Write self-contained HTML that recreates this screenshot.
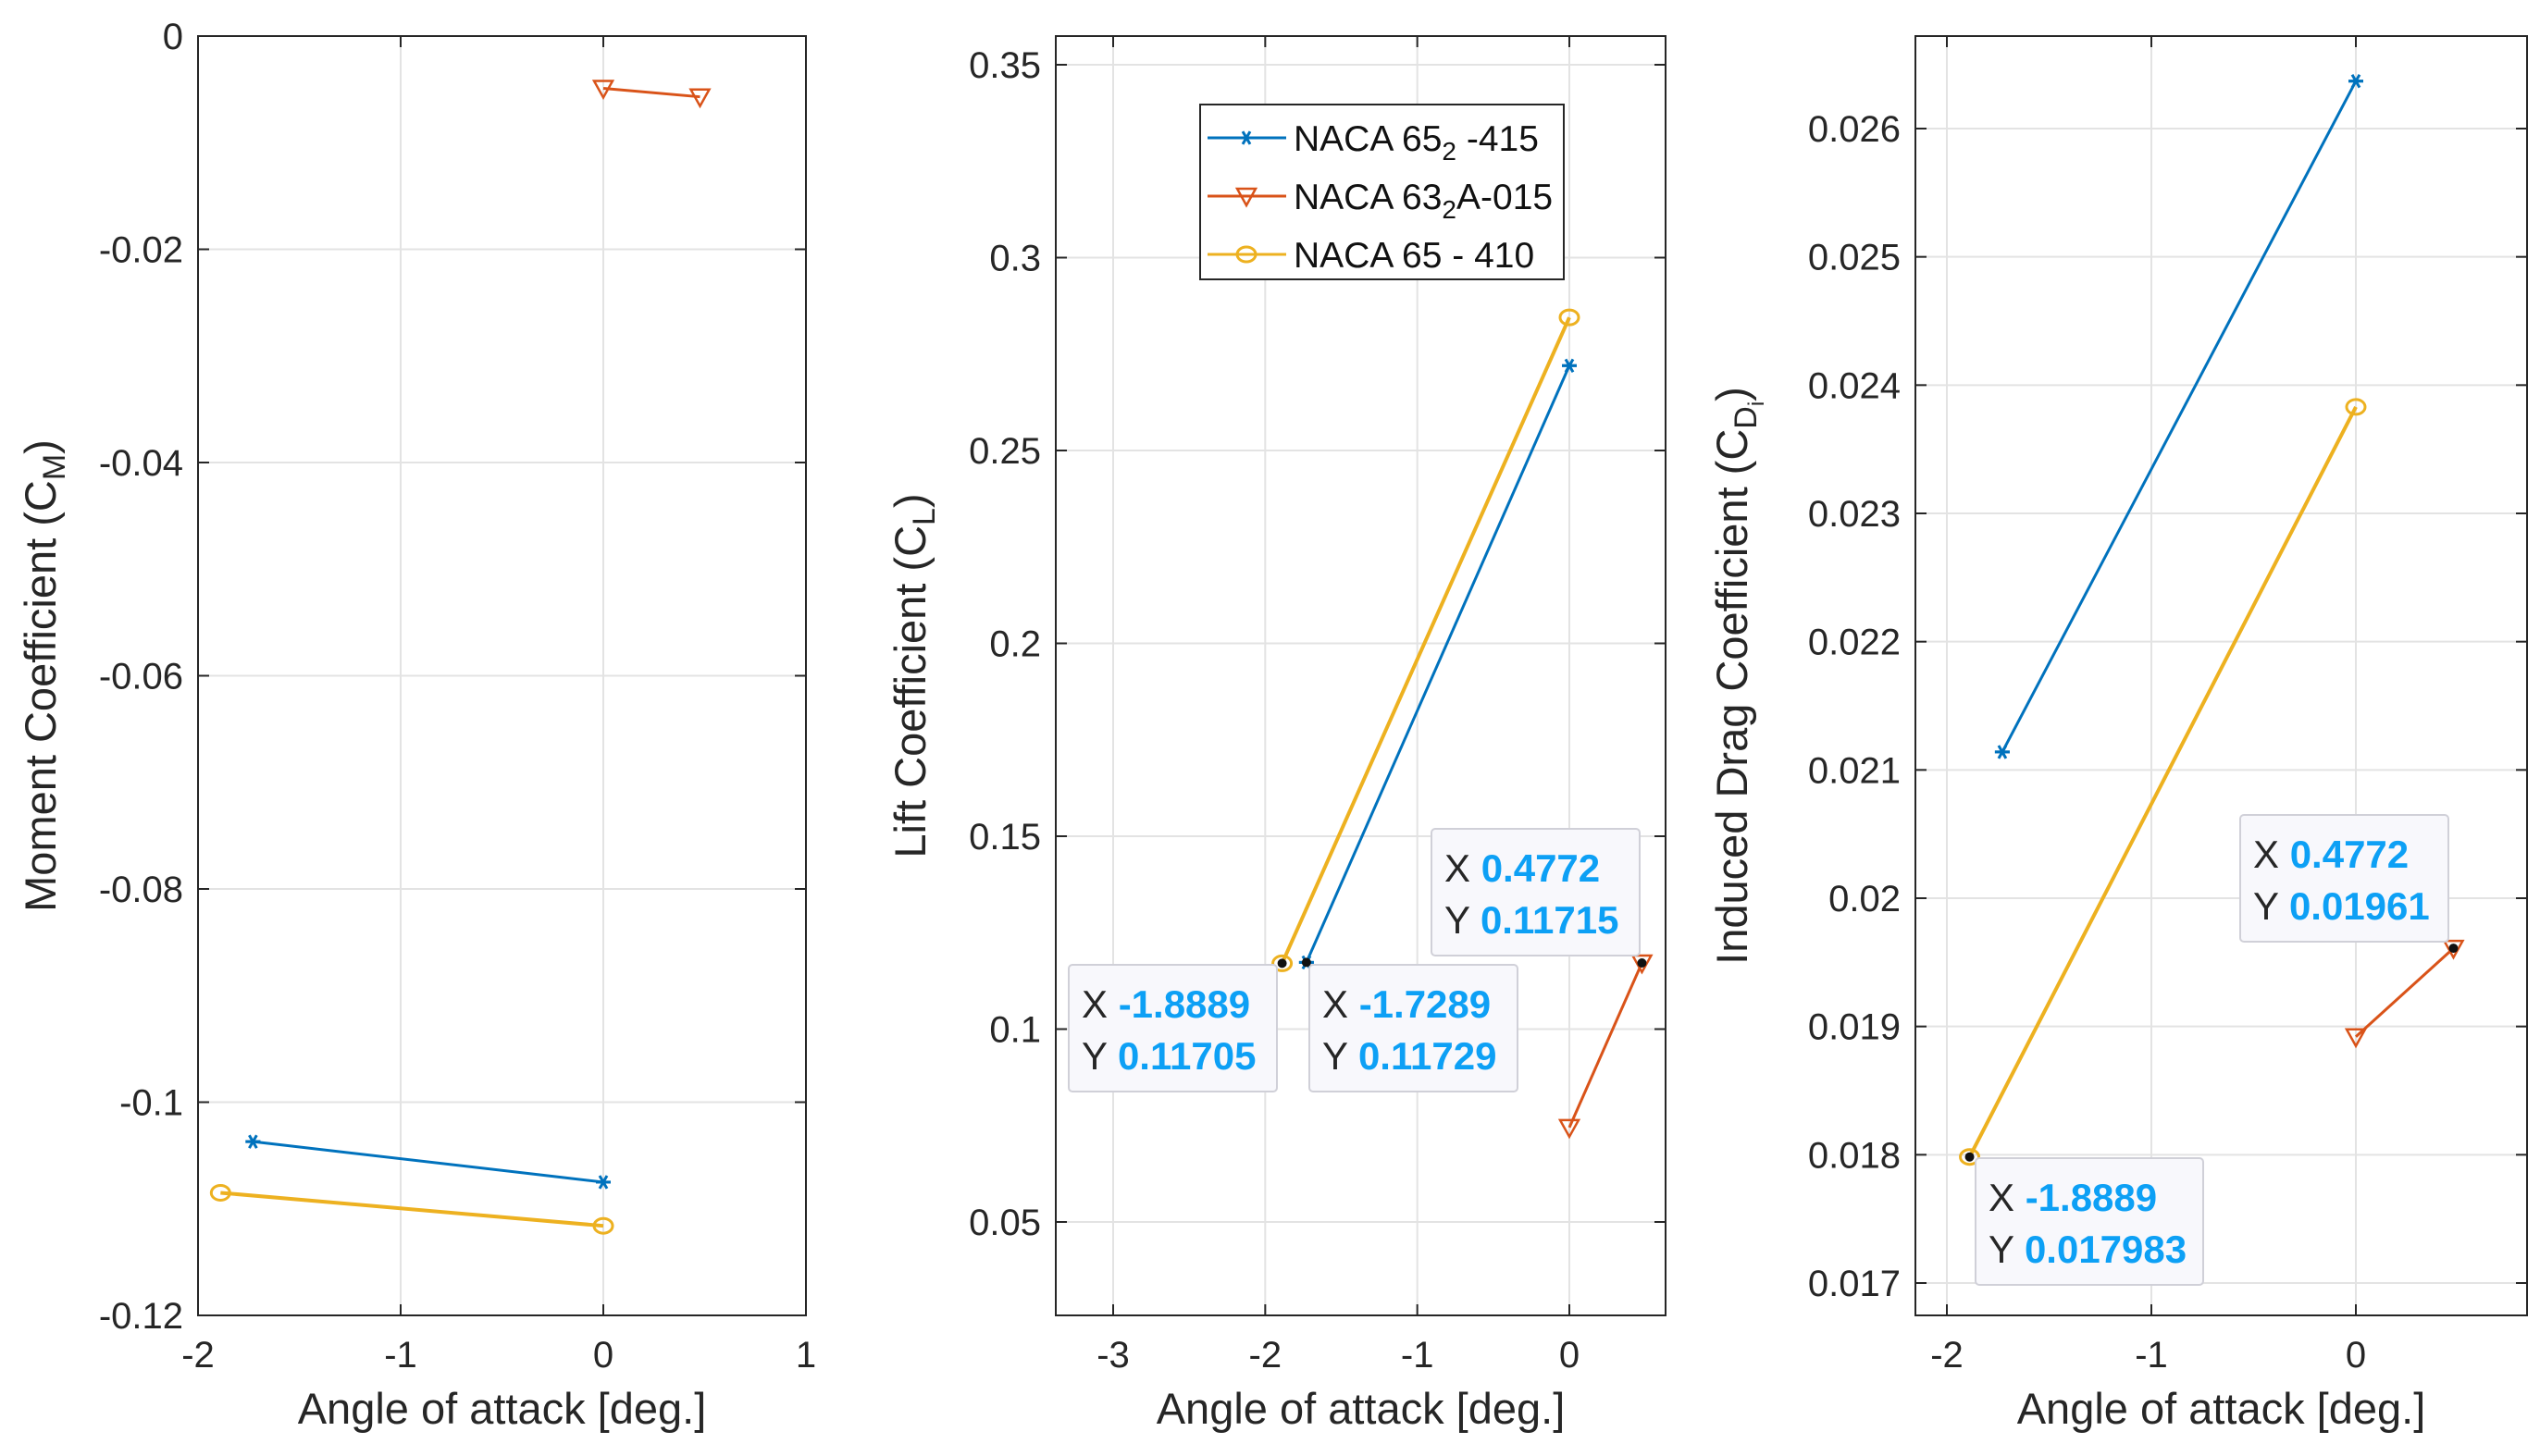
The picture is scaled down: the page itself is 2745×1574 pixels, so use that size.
<!DOCTYPE html>
<html><head><meta charset="utf-8"><style>
html,body{margin:0;padding:0;background:#fff}
svg{display:block;font-family:"Liberation Sans",sans-serif}
</style></head><body>
<svg id="chart" width="2745" height="1574" viewBox="0 0 2745 1574" xmlns="http://www.w3.org/2000/svg">
<rect width="2745" height="1574" fill="#fff"/>
</svg>
<script>
// ---- data ----
const seriesNames = ["NACA 65_2 -415", "NACA 63_2A-015", "NACA 65 - 410"];
const cmBlueX = [-1.7289, 0];      const cmBlueY = [-0.1037, -0.1075];
const cmRedX = [0, 0.4772];        const cmRedY = [-0.0049, -0.0057];
const cmYelX = [-1.8889, 0];       const cmYelY = [-0.1085, -0.1116];
const clBlueX = [-1.7289, 0];      const clBlueY = [0.11729, 0.272];
const clRedX = [0, 0.4772];        const clRedY = [0.0745, 0.11715];
const clYelX = [-1.8889, 0];       const clYelY = [0.11705, 0.2845];
const cdBlueX = [-1.7289, 0];      const cdBlueY = [0.02114, 0.02637];
const cdRedX = [0, 0.4772];        const cdRedY = [0.01892, 0.01961];
const cdYelX = [-1.8889, 0];       const cdYelY = [0.017983, 0.02383];
const cmXTicks = [-2, -1, 0, 1];
const cmYTicks = [0, -0.02, -0.04, -0.06, -0.08, -0.1, -0.12];
const cmYTickLabels = ["0", "-0.02", "-0.04", "-0.06", "-0.08", "-0.1", "-0.12"];
const clXTicks = [-3, -2, -1, 0];
const clYTicks = [0.05, 0.1, 0.15, 0.2, 0.25, 0.3, 0.35];
const clYTickLabels = ["0.05", "0.1", "0.15", "0.2", "0.25", "0.3", "0.35"];
const cdXTicks = [-2, -1, 0];
const cdYTicks = [0.017, 0.018, 0.019, 0.02, 0.021, 0.022, 0.023, 0.024, 0.025, 0.026];
const cdYTickLabels = ["0.017", "0.018", "0.019", "0.02", "0.021", "0.022", "0.023", "0.024", "0.025", "0.026"];

const NS = "http://www.w3.org/2000/svg";
const svg = document.getElementById("chart");
const BLUE = "#0072BD", RED = "#D95319", YEL = "#EDB120";
function mk(tag, attrs, parent) {
  const e = document.createElementNS(NS, tag);
  for (const k in attrs) e.setAttribute(k, attrs[k]);
  (parent || svg).appendChild(e);
  return e;
}
function lin(d0, d1, p0, p1) { return v => p0 + (v - d0) * (p1 - p0) / (d1 - d0); }

function marker(g, kind, x, y, color) {
  if (kind === "star") {
    const r = 8;
    for (const a of [0, 60, 120]) {
      const rad = a * Math.PI / 180;
      mk("line", {x1: x - r * Math.cos(rad), y1: y - r * Math.sin(rad), x2: x + r * Math.cos(rad), y2: y + r * Math.sin(rad), stroke: color, "stroke-width": 3}, g);
    }
    mk("line", {x1: x - r, y1: y, x2: x + r, y2: y, stroke: color, "stroke-width": 3}, g);
  } else if (kind === "tri") {
    mk("polygon", {points: `${x - 10},${y - 8} ${x + 10},${y - 8} ${x},${y + 10}`, fill: "none", stroke: color, "stroke-width": 2.5}, g);
  } else {
    mk("ellipse", {cx: x, cy: y, rx: 10, ry: 8, fill: "none", stroke: color, "stroke-width": 3}, g);
  }
}

function panel(cfg) {
  const g = mk("g", {});
  
  
  const {L, R, T, B} = cfg;
  for (const t of cfg.xt) { const x = cfg.sx(t); mk("line", {x1: x, y1: T, x2: x, y2: B, stroke: "#e3e3e3", "stroke-width": 2}, g); }
  for (const t of cfg.yt) { const y = cfg.sy(t); mk("line", {x1: L, y1: y, x2: R, y2: y, stroke: "#e3e3e3", "stroke-width": 2}, g); }
  for (const t of cfg.xt) { const x = cfg.sx(t);
    mk("line", {x1: x, y1: B, x2: x, y2: B - 12, stroke: "#262626", "stroke-width": 2}, g);
    mk("line", {x1: x, y1: T, x2: x, y2: T + 12, stroke: "#262626", "stroke-width": 2}, g);
    const tx = mk("text", {x: x, y: B + 56, "text-anchor": "middle", "font-size": 40, fill: "#262626"}, g);
    
    
    tx.textContent = String(t);
  }
  cfg.yt.forEach((t, i) => { const y = cfg.sy(t);
    mk("line", {x1: L, y1: y, x2: L + 12, y2: y, stroke: "#262626", "stroke-width": 2}, g);
    mk("line", {x1: R, y1: y, x2: R - 12, y2: y, stroke: "#262626", "stroke-width": 2}, g);
    const tx = mk("text", {x: L - 16, y: y + 14, "text-anchor": "end", "font-size": 40, fill: "#262626"}, g);
    
    
    tx.textContent = cfg.ytl[i];
  });
  mk("rect", {x: L, y: T, width: R - L, height: B - T, fill: "none", stroke: "#262626", "stroke-width": 2}, g);
  cfg.series.forEach(s => {
    const sg = mk("g", {}, g);
    
    
    const pts = s.x.map((v, i) => `${cfg.sx(v)},${cfg.sy(s.y[i])}`).join(" ");
    mk("polyline", {points: pts, fill: "none", stroke: s.c, "stroke-width": s.w}, sg);
    s.x.forEach((v, i) => marker(sg, s.m, cfg.sx(v), cfg.sy(s.y[i]), s.c));
  });
  const xl = mk("text", {x: (L + R) / 2, y: B + 117, "text-anchor": "middle", "font-size": 47, fill: "#262626"}, g);
  
  
  xl.textContent = "Angle of attack [deg.]";
  const yl = mk("text", {transform: `translate(${cfg.ylx},${(T + B) / 2}) rotate(-90)`, "text-anchor": "middle", "font-size": 47, fill: "#262626"}, g);
  
  
  yl.innerHTML = cfg.ylabel;
  return g;
}

function tip(px, py, bx, by, w, xs, ys) {
  const g = mk("g", {});
  
  
  mk("rect", {x: bx, y: by, width: w, height: 137, rx: 4, fill: "#f8f8fc", stroke: "#d0d0d8", "stroke-width": 2}, g);
  const t1 = mk("text", {x: bx + 14, y: by + 57, "font-size": 42, fill: "#262626"}, g);
  t1.innerHTML = `X <tspan font-weight="bold" fill="#0da0f5">${xs}</tspan>`;
  const t2 = mk("text", {x: bx + 14, y: by + 113, "font-size": 42, fill: "#262626"}, g);
  t2.innerHTML = `Y <tspan font-weight="bold" fill="#0da0f5">${ys}</tspan>`;
  mk("circle", {cx: px, cy: py, r: 5, fill: "#111"}, g);
}

const s1x = lin(-2, 1, 214, 871), s1y = lin(0, -0.12, 39, 1422);
panel({name: "moment-coefficient-plot", L: 214, R: 871, T: 39, B: 1422, sx: s1x, sy: s1y, xt: cmXTicks, yt: cmYTicks, ytl: cmYTickLabels, ylx: 60,
  ylabel: 'Moment Coefficient (C<tspan font-size="34" dy="10">M</tspan><tspan dy="-10">)</tspan>',
  series: [
    {name: "series-naca-65-2-415", x: cmBlueX, y: cmBlueY, c: BLUE, m: "star", w: 3},
    {name: "series-naca-63-2a-015", x: cmRedX, y: cmRedY, c: RED, m: "tri", w: 3},
    {name: "series-naca-65-410", x: cmYelX, y: cmYelY, c: YEL, m: "circ", w: 4}]});

const s2x = lin(-3, 0, 1203, 1696), s2y = lin(0.05, 0.35, 1321, 70);
panel({name: "lift-coefficient-plot", L: 1141, R: 1800, T: 39, B: 1422, sx: s2x, sy: s2y, xt: clXTicks, yt: clYTicks, ytl: clYTickLabels, ylx: 1000,
  ylabel: 'Lift Coefficient (C<tspan font-size="34" dy="10">L</tspan><tspan dy="-10">)</tspan>',
  series: [
    {name: "series-naca-65-2-415", x: clBlueX, y: clBlueY, c: BLUE, m: "star", w: 3},
    {name: "series-naca-63-2a-015", x: clRedX, y: clRedY, c: RED, m: "tri", w: 3},
    {name: "series-naca-65-410", x: clYelX, y: clYelY, c: YEL, m: "circ", w: 4}]});

const s3x = lin(-2, 0, 2104, 2546), s3y = lin(0.017, 0.026, 1387, 139);
panel({name: "induced-drag-coefficient-plot", L: 2070, R: 2731, T: 39, B: 1422, sx: s3x, sy: s3y, xt: cdXTicks, yt: cdYTicks, ytl: cdYTickLabels, ylx: 1888,
  ylabel: 'Induced Drag Coefficient (C<tspan font-size="34" dy="10">D</tspan><tspan font-size="24" dy="8">i</tspan><tspan dy="-18">)</tspan>',
  series: [
    {name: "series-naca-65-2-415", x: cdBlueX, y: cdBlueY, c: BLUE, m: "star", w: 3},
    {name: "series-naca-63-2a-015", x: cdRedX, y: cdRedY, c: RED, m: "tri", w: 3},
    {name: "series-naca-65-410", x: cdYelX, y: cdYelY, c: YEL, m: "circ", w: 4}]});

tip(s2x(-1.8889), s2y(0.11705), 1155, 1043, 225, "-1.8889", "0.11705");
tip(s2x(-1.7289), s2y(0.11729), 1415, 1043, 225, "-1.7289", "0.11729");
tip(s2x(0.4772), s2y(0.11715), 1547, 896, 225, "0.4772", "0.11715");
tip(s3x(0.4772), s3y(0.01961), 2421, 881, 225, "0.4772", "0.01961");
tip(s3x(-1.8889), s3y(0.017983), 2135, 1252, 246, "-1.8889", "0.017983");

const lg = mk("g", {});


mk("rect", {x: 1297, y: 113, width: 393, height: 189, fill: "#fff", stroke: "#262626", "stroke-width": 2}, lg);
const legRows = [[BLUE, "star", 'NACA 65<tspan font-size="28" dy="10">2</tspan><tspan dy="-10"> -415</tspan>'],
  [RED, "tri", 'NACA 63<tspan font-size="28" dy="10">2</tspan><tspan dy="-10">A-015</tspan>'],
  [YEL, "circ", 'NACA 65 - 410']];
legRows.forEach((r, i) => {
  const y = 149 + i * 63;
  const e = mk("g", {}, lg);
  
  
  mk("line", {x1: 1305, y1: y, x2: 1390, y2: y, stroke: r[0], "stroke-width": 3}, e);
  marker(e, r[1], 1347, y, r[0]);
  const t = mk("text", {x: 1398, y: y + 14, "font-size": 39, fill: "#111"}, e);
  t.innerHTML = r[2];
});
</script>
</body></html>
